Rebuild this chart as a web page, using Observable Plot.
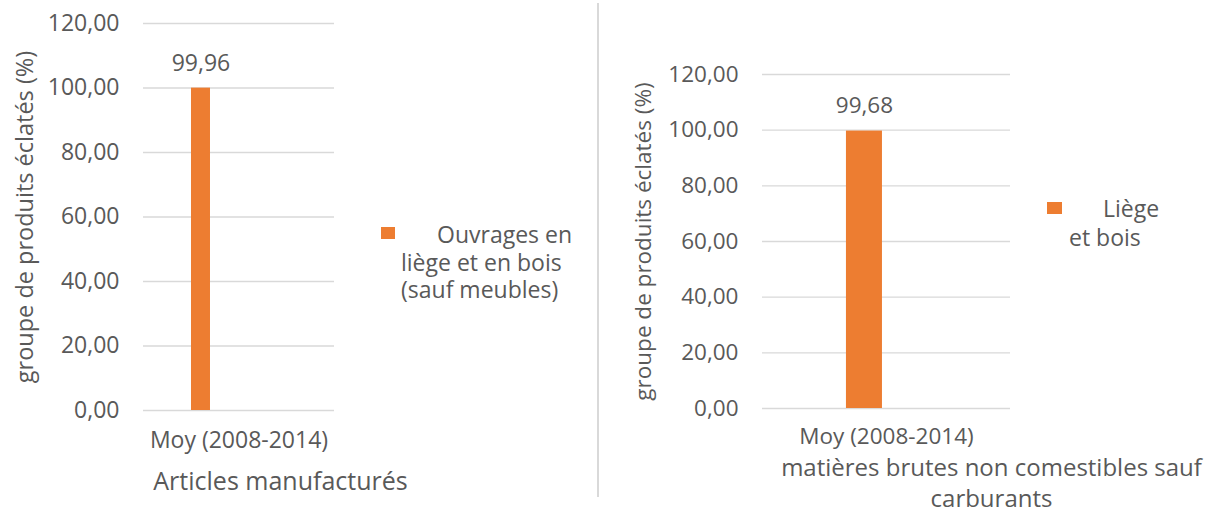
<!DOCTYPE html>
<html>
<head>
<meta charset="utf-8">
<script src="https://cdn.jsdelivr.net/npm/d3@7"></script>
<script src="https://cdn.jsdelivr.net/npm/@observablehq/plot@0.6"></script>
<style>
  body { margin: 0; background: #ffffff; }
  #wrap { position: relative; width: 1215px; height: 511px; overflow: hidden; background: #ffffff;
          font-family: "Open Sans", sans-serif; color: #595959; }
  .panel { position: absolute; top: 0; }
  .panel svg { overflow: visible; }
  .legend { position: absolute; font-size: 23px; }
  .legend .sw { position: absolute; background: #ED7D31; }
  .legend .tx { position: absolute; white-space: normal; }
  #divider { position: absolute; left: 597px; top: 3px; width: 2px; height: 494px; background: #d9d9d9; }
</style>
</head>
<body>
<div id="wrap">
  <div id="left" class="panel" style="left:0px"></div>
  <div id="divider"></div>
  <div id="right" class="panel" style="left:600px"></div>
</div>
<script>
// Values
const categories = ["Moy (2008-2014)"];
const seriesLeft = ["Ouvrages en liège et en bois (sauf meubles)"];
const valuesLeft = [99.96];
const seriesRight = ["Liège et bois"];
const valuesRight = [99.68];
const yTicks = [0, 20, 40, 60, 80, 100, 120];
const yTitle = "groupe de produits éclatés (%)";
const xTitleLeft = ["Articles manufacturés"];
const xTitleRight = ["matières brutes non comestibles sauf", "carburants"];

const BAR = "#ED7D31";
const INK = "#595959";
const GRID = "#d9d9d9";

const fr = d3.formatLocale({decimal: ",", thousands: " ", grouping: [3], currency: ["", " €"]});
const fmt = fr.format(".2f");

function drawPanel(el, opt) {
  const rows = opt.series.map((s, i) => ({series: s, value: opt.values[i]}));
  const chart = Plot.plot({
    width: opt.width,
    height: 511,
    marginTop: opt.mt,
    marginRight: opt.mr,
    marginBottom: opt.mb,
    marginLeft: opt.ml,
    style: {fontFamily: "Open Sans, sans-serif", color: INK, background: "transparent", overflow: "visible"},
    x: {type: "band", domain: opt.series, paddingInner: 0, paddingOuter: opt.po, align: opt.align, round: false, axis: null},
    y: {domain: [0, 120], axis: null},
    marks: [
      Plot.gridY(yTicks, {stroke: GRID, strokeOpacity: 1, strokeWidth: 1.4}),
      Plot.axisY(yTicks, {tickSize: 0, tickPadding: 24, tickFormat: fmt, fontSize: opt.fs, fill: INK, label: null}),
      Plot.barY(rows, {x: "series", y: "value", fill: BAR}),
      Plot.text(rows, {x: "series", y: "value", text: d => fmt(d.value), dy: -25, fontSize: opt.fs, fill: INK, lineAnchor: "middle"}),
      Plot.text(categories, {frameAnchor: "bottom", text: d => d, dy: opt.catDy, fontSize: opt.fs, fill: INK, lineAnchor: "middle"}),
      Plot.text([yTitle], {frameAnchor: "left", text: d => d, rotate: -90, dx: opt.yTitleDx, fontSize: opt.yfs, fill: INK,
        textAnchor: "middle", lineAnchor: "middle"}),
      Plot.text([opt.xTitle.join("\n")], {frameAnchor: "bottom", text: d => d, dx: opt.xTitleDx, dy: opt.xTitleDy,
        fontSize: opt.tfs, fill: INK, textAnchor: "middle", lineAnchor: "middle", lineHeight: 1.3})
    ]
  });
  el.appendChild(chart);

  // legend: swatch + wrapped series name
  opt.series.forEach(s => {
    const lg = document.createElement("div");
    lg.className = "legend";
    lg.style.left = opt.lg.x + "px";
    lg.style.top = opt.lg.y + "px";
    const sw = document.createElement("div");
    sw.className = "sw";
    sw.style.left = "0px";
    sw.style.top = opt.lg.swTop + "px";
    sw.style.width = opt.lg.swW + "px";
    sw.style.height = "12px";
    const tx = document.createElement("div");
    tx.className = "tx";
    tx.style.left = opt.lg.textLeft + "px";
    tx.style.top = "0px";
    tx.style.width = opt.lg.textWidth + "px";
    tx.style.textIndent = opt.lg.indent + "px";
    tx.style.lineHeight = opt.lg.lh + "px";
    tx.textContent = s;
    lg.appendChild(sw);
    lg.appendChild(tx);
    document.getElementById("wrap").appendChild(lg);
  });
}

drawPanel(document.getElementById("left"), {
  width: 598, mt: 23, mr: 264, mb: 101, ml: 143,
  series: seriesLeft, values: valuesLeft,
  po: 4.526, align: 0.279,
  fs: 23, yfs: 23.5, tfs: 25,
  catDy: 30, yTitleDx: -118.5,
  xTitle: xTitleLeft, xTitleDx: 41.5, xTitleDy: 69,
  lg: {x: 381, y: 221, swTop: 6, swW: 14, textLeft: 20, textWidth: 178, indent: 36, lh: 27.5}
});

drawPanel(document.getElementById("right"), {
  width: 615, mt: 74, mr: 205, mb: 103, ml: 162,
  series: seriesRight, values: valuesRight,
  po: 2.944, align: 0.396,
  fs: 22.5, yfs: 22.5, tfs: 24,
  catDy: 28, yTitleDx: -119,
  xTitle: xTitleRight, xTitleDx: 105, xTitleDy: 73,
  lg: {x: 1047, y: 193.5, swTop: 8.5, swW: 15, textLeft: 22, textWidth: 98, indent: 34, lh: 29}
});
</script>
</body>
</html>
